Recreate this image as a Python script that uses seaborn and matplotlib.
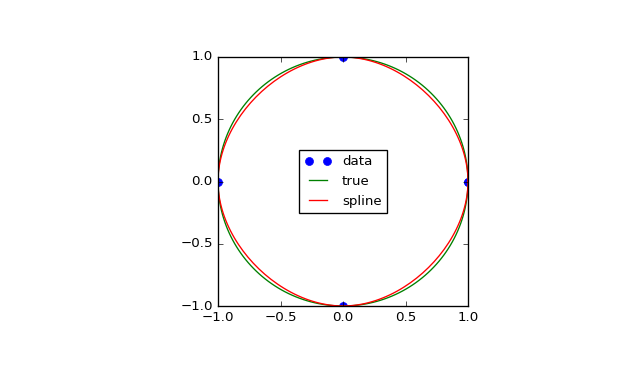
import numpy as np
import matplotlib
matplotlib.use("Agg")
import matplotlib.pyplot as plt
import seaborn as sns

plt.style.use("classic")

# data points (angles 0, pi/2, pi, 3pi/2, 2pi on unit circle)
theta = np.array([0.0, 0.5, 1.0, 1.5, 2.0]) * np.pi
data_x = [1.0, 0.0, -1.0, 0.0, 1.0]
data_y = [0.0, 1.0, 0.0, -1.0, 0.0]


def periodic_spline(t, y, tt):
    y = np.asarray(y, float)
    n = len(t) - 1
    h = t[1] - t[0]
    A = np.zeros((n, n))
    b = np.zeros(n)
    yy = y[:n]
    for i in range(n):
        A[i, (i - 1) % n] = 1
        A[i, i] = 4
        A[i, (i + 1) % n] = 1
        b[i] = 6 / h**2 * (yy[(i + 1) % n] - 2 * yy[i] + yy[(i - 1) % n])
    M = np.linalg.solve(A, b)
    M = np.append(M, M[0])
    idx = np.clip(((tt - t[0]) // h).astype(int), 0, n - 1)
    ti, ti1 = t[idx], t[idx + 1]
    Mi, Mi1 = M[idx], M[idx + 1]
    yi, yi1 = y[idx], y[idx + 1]
    return (Mi * (ti1 - tt) ** 3 / (6 * h) + Mi1 * (tt - ti) ** 3 / (6 * h)
            + (yi / h - Mi * h / 6) * (ti1 - tt) + (yi1 / h - Mi1 * h / 6) * (tt - ti))


tt = np.linspace(0, 2 * np.pi, 200)
true_x, true_y = np.cos(tt), np.sin(tt)
spl_x = periodic_spline(theta, data_x, tt)
spl_y = periodic_spline(theta, data_y, tt)

fig = plt.figure(figsize=(6.5, 4), dpi=96, facecolor="white")
ax = fig.add_axes([218 / 624, (384 - 306) / 384, 250 / 624, 249 / 384])

ax.plot(data_x, data_y, "o", color="blue", markeredgecolor="blue", label="data", markersize=6)
sns.lineplot(x=true_x, y=true_y, sort=False, estimator=None, color="green", label="true", ax=ax, linewidth=1)
sns.lineplot(x=spl_x, y=spl_y, sort=False, estimator=None, color="red", label="spline", ax=ax, linewidth=1)

ax.set_xlim(-1, 1)
ax.set_ylim(-1, 1)
ax.set_xticks([-1.0, -0.5, 0.0, 0.5, 1.0])
ax.set_yticks([-1.0, -0.5, 0.0, 0.5, 1.0])
ax.tick_params(labelsize=10)
ax.legend(loc="center", fontsize=10, numpoints=2)

fig.savefig("out.png", dpi=96, facecolor="white")
